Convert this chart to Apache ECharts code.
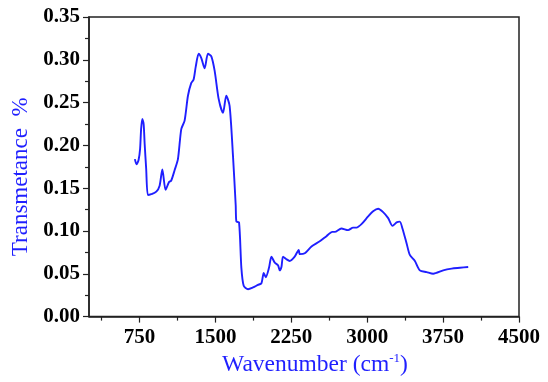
<!DOCTYPE html>
<html>
<head>
<meta charset="utf-8">
<script src="https://cdn.jsdelivr.net/npm/echarts@6/dist/echarts.min.js"></script>
<style>
  html, body { margin: 0; padding: 0; background: #fff; }
  #chart { width: 548px; height: 382px; }
</style>
</head>
<body>
<div id="chart"></div>
<script>
// FTIR spectrum: wavenumber (cm^-1) vs transmittance
const wavenumber = [
  703, 720, 740, 755, 765, 777, 790, 800, 815, 832, 865, 915, 948, 975, 1007,
  1040, 1063, 1096, 1129, 1162, 1195, 1228, 1261, 1284, 1305, 1334, 1360, 1393,
  1426, 1459, 1492, 1532, 1574, 1607, 1640, 1673, 1700, 1707, 1733, 1756, 1779,
  1822, 1871, 1920, 1954, 1977, 1997, 2029, 2053, 2086, 2118, 2135, 2152, 2168,
  2201, 2234, 2283, 2323, 2333, 2383, 2449, 2531, 2597, 2655, 2679, 2744, 2811,
  2860, 2894, 2943, 3009, 3058, 3108, 3157, 3207, 3250, 3290, 3322, 3348, 3388,
  3421, 3471, 3520, 3587, 3652, 3751, 3834, 3916, 3998
];
const transmittance = [
  0.184, 0.178, 0.183, 0.196, 0.219, 0.231, 0.225, 0.202, 0.173, 0.142, 0.143, 0.146, 0.153, 0.172, 0.148,
  0.157, 0.159, 0.171, 0.184, 0.219, 0.229, 0.258, 0.273, 0.277, 0.292, 0.307, 0.302, 0.290,
  0.307, 0.304, 0.287, 0.254, 0.238, 0.258, 0.246, 0.188, 0.130, 0.111, 0.110, 0.057, 0.036,
  0.032, 0.034, 0.037, 0.039, 0.051, 0.046, 0.057, 0.070, 0.063, 0.060, 0.054, 0.058, 0.070,
  0.067, 0.065, 0.070, 0.078, 0.073, 0.074, 0.082, 0.088, 0.094, 0.099, 0.099, 0.103, 0.101,
  0.104, 0.104, 0.108, 0.117, 0.123, 0.126, 0.122, 0.115, 0.106, 0.110, 0.111, 0.103, 0.086,
  0.072, 0.065, 0.054, 0.052, 0.050, 0.054, 0.056, 0.057, 0.058
];
const xTicks = [750, 1500, 2250, 3000, 3750, 4500];
const xMinorTicks = [375, 1125, 1875, 2625, 3375, 4125];
const yTicks = [0.00, 0.05, 0.10, 0.15, 0.20, 0.25, 0.30, 0.35];

const FONT = 'Liberation Serif';
const BLUE = '#1f1fff';
const AXIS = '#222';
const X_MIN = 250, X_MAX = 4500;

const chart = echarts.init(document.getElementById('chart'), null, { renderer: 'canvas' });
chart.setOption({
  animation: false,
  backgroundColor: '#fff',
  grid: {
    left: 89, right: 29, top: 17, bottom: 63,
    show: true, borderColor: AXIS, borderWidth: 1.5, backgroundColor: 'transparent'
  },
  xAxis: [{
    type: 'value',
    position: 'bottom',
    min: X_MIN, max: X_MAX,
    name: '{t|Wavenumber (cm}{s|-1}{t|)}',
    nameLocation: 'middle',
    nameGap: 34,
    nameTextStyle: {
      padding: [0, 0, 0, 22],
      rich: {
        t: { fontFamily: FONT, fontSize: 23.5, color: BLUE },
        s: { fontFamily: FONT, fontSize: 13, color: BLUE, verticalAlign: 'top', padding: [0, 0, 12, 0] }
      }
    },
    axisLine: { show: true, onZero: false, lineStyle: { color: AXIS, width: 1.5 } },
    axisTick: { show: true, inside: false, length: 6, customValues: xTicks, lineStyle: { color: AXIS, width: 1.2 } },
    splitLine: { show: false },
    axisLabel: {
      margin: 10, customValues: xTicks,
      fontFamily: FONT, fontSize: 21, fontWeight: 'bold', color: '#000',
      formatter: v => String(Math.round(v))
    }
  }, {
    // short intermediate ticks along the bottom edge
    type: 'value',
    position: 'bottom',
    offset: 0,
    min: X_MIN, max: X_MAX,
    axisLine: { show: false },
    axisTick: { show: true, inside: false, length: 4, customValues: xMinorTicks, lineStyle: { color: AXIS, width: 1.2 } },
    axisLabel: { show: false },
    splitLine: { show: false }
  }],
  yAxis: {
    type: 'value',
    min: 0, max: 0.35, interval: 0.05,
    name: 'Transmetance  %',
    nameLocation: 'middle',
    nameGap: 56,
    nameTextStyle: { fontFamily: FONT, fontSize: 23, color: BLUE, padding: [0, 20, 0, 0] },
    axisLine: { show: true, onZero: false, lineStyle: { color: AXIS, width: 1.5 } },
    axisTick: { show: true, inside: false, length: 6, lineStyle: { color: AXIS, width: 1.2 } },
    minorTick: { show: true, splitNumber: 2, length: 4, lineStyle: { color: AXIS, width: 1.2 } },
    splitLine: { show: false },
    axisLabel: {
      margin: 9,
      fontFamily: FONT, fontSize: 21, fontWeight: 'bold', color: '#000',
      formatter: v => {
        const hit = yTicks.find(t => Math.abs(t - v) < 1e-9);
        return hit === undefined ? '' : hit.toFixed(2);
      }
    }
  },
  series: [{
    type: 'line',
    xAxisIndex: 0,
    data: wavenumber.map((w, i) => [w, transmittance[i]]),
    showSymbol: false,
    smooth: 0.25,
    lineStyle: { color: BLUE, width: 1.9 }
  }]
});
</script>
</body>
</html>
